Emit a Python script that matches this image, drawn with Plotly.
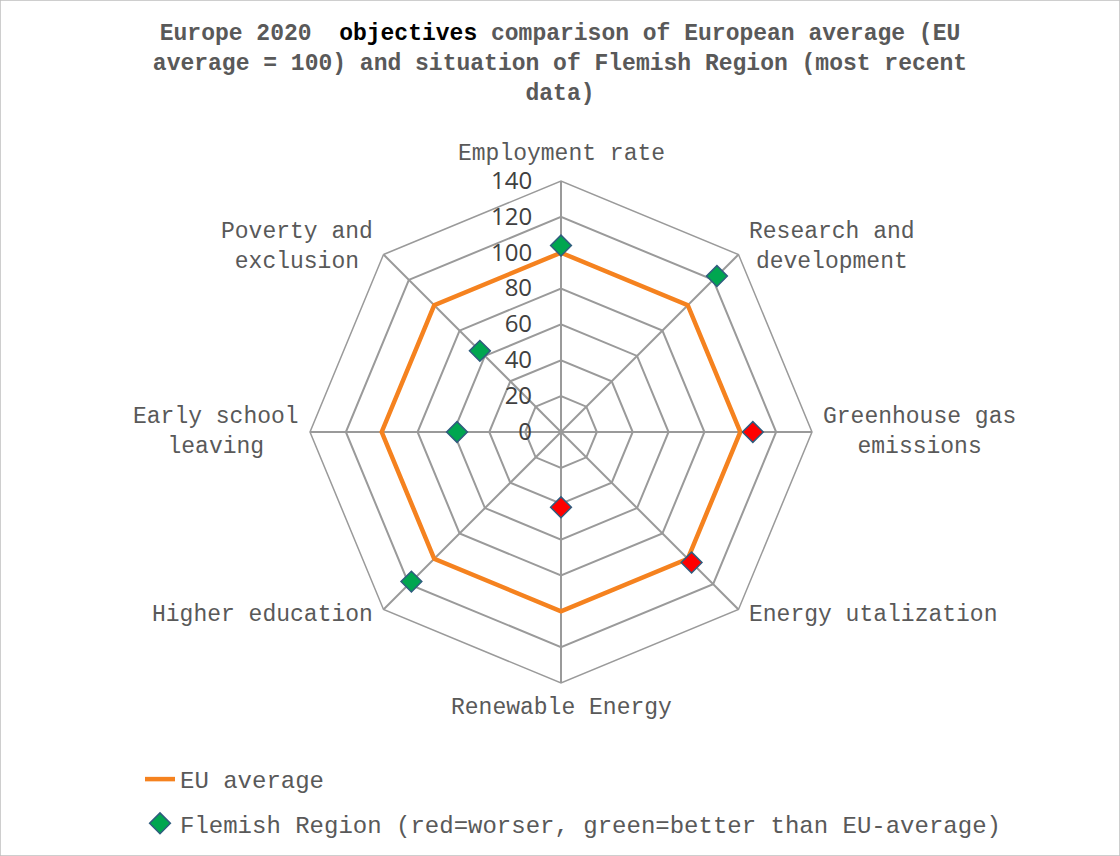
import math
import plotly.graph_objects as go

CATEGORIES = [
    "Employment rate",
    "Research and development",
    "Greenhouse gas emissions",
    "Energy utalization",
    "Renewable Energy",
    "Higher education",
    "Early school leaving",
    "Poverty and exclusion",
]
CATEGORY_LABELS = [
    "Employment rate",
    "Research and<br>development",
    "Greenhouse gas<br>emissions",
    "Energy utalization",
    "Renewable Energy",
    "Higher education",
    "Early school<br>leaving",
    "Poverty and<br>exclusion",
]
EU_AVERAGE = [100, 100, 100, 100, 100, 100, 100, 100]
FLEMISH = [104, 123, 107, 103, 42, 118, 58, 64]
FLEMISH_COLORS = ["#00A650", "#00A650", "#FF0000", "#FF0000",
                  "#FF0000", "#00A650", "#00A650", "#00A650"]
RADIAL_TICKS = [0, 20, 40, 60, 80, 100, 120, 140]

TEXT_GREY = "#595959"
GRID = "#9A9A9A"
MONO = "Liberation Mono, Courier New, monospace"

W, H = 1120, 856
CX, CY, R = 561, 432, 251

fig = go.Figure()

fig.add_trace(go.Scatterpolar(
    r=EU_AVERAGE + EU_AVERAGE[:1],
    theta=CATEGORIES + CATEGORIES[:1],
    mode="lines",
    name="EU average",
    line=dict(color="#F5821F", width=4.5),
    legendgroup="a",
))

fig.add_trace(go.Scatterpolar(
    r=FLEMISH,
    theta=CATEGORIES,
    mode="markers",
    name="Flemish Region (red=worser, green=better than EU-average)",
    marker=dict(symbol="diamond", size=16, color=FLEMISH_COLORS,
                line=dict(color="#2F5C7E", width=1.5)),
    legendgroup="b",
))

# category labels placed just outside each spoke, centred like the original
annotations = []
n = len(CATEGORIES)
for i, label in enumerate(CATEGORY_LABELS):
    a = math.radians(90 - 360 / n * i)
    c, s = math.cos(a), math.sin(a)
    px = CX + R * c
    py = CY - R * s
    if c > 0.1:
        xanchor, xshift = "left", 9
    elif c < -0.1:
        xanchor, xshift = "right", -9
    else:
        xanchor, xshift = "center", 0
    if s > 0.9:
        yanchor, yshift = "bottom", 12
    elif s < -0.9:
        yanchor, yshift = "top", -10
    elif s > 0.1:
        yanchor, yshift = "middle", 8
    elif s < -0.1:
        yanchor, yshift = "middle", -6
    else:
        yanchor, yshift = "middle", 0
    annotations.append(dict(
        text=label, x=px / W, y=1 - py / H, xref="paper", yref="paper",
        xanchor=xanchor, yanchor=yanchor, xshift=xshift, yshift=yshift,
        align="center", showarrow=False,
        font=dict(family=MONO, size=23, color=TEXT_GREY),
    ))

fig.update_layout(
    width=W,
    height=H,
    paper_bgcolor="white",
    plot_bgcolor="white",
    margin=dict(l=0, r=0, t=0, b=0),
    title=dict(
        text=("<b>Europe 2020&nbsp; <span style='color:black'>objectives</span> "
              "comparison of European average (EU<br>average = 100) and situation "
              "of Flemish Region (most recent<br>data)</b>"),
        x=0.5, xanchor="center", y=1 - 40 / H, yanchor="top",
        xref="paper", yref="container",
        font=dict(family=MONO, size=23, color=TEXT_GREY),
    ),
    polar=dict(
        domain=dict(x=[(CX - R) / W, (CX + R) / W],
                    y=[1 - (CY + R) / H, 1 - (CY - R) / H]),
        bgcolor="white",
        gridshape="linear",
        radialaxis=dict(
            range=[0, 140],
            tickvals=RADIAL_TICKS,
            angle=90,
            side="counterclockwise",
            showline=False,
            gridcolor=GRID,
            gridwidth=1.5,
            ticks="outside",
            ticklen=20,
            tickcolor="rgba(0,0,0,0)",
            tickfont=dict(family="Open Sans, Noto Sans, sans-serif", size=24,
                          color="#404040"),
            tickangle=90,
        ),
        angularaxis=dict(
            direction="clockwise",
            rotation=90,
            showticklabels=False,
            ticks="",
            linecolor=GRID,
            linewidth=1.5,
            gridcolor=GRID,
            gridwidth=1.5,
        ),
    ),
    annotations=annotations,
    legend=dict(
        x=140 / W, y=1 - 757 / H, xanchor="left", yanchor="top",
        orientation="v",
        font=dict(family=MONO, size=24, color=TEXT_GREY),
        tracegroupgap=10,
        bgcolor="rgba(0,0,0,0)",
    ),
    shapes=[dict(type="rect", xref="paper", yref="paper", x0=0, y0=0, x1=1, y1=1,
                 line=dict(color="#BFBFBF", width=1.5))],
)

fig.write_html("out.html", config={"displayModeBar": False},
               post_script="document.body.style.margin = '0';")
